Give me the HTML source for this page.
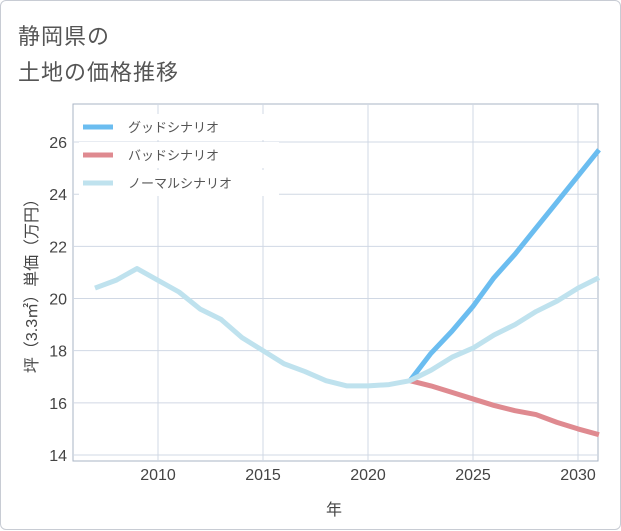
<!DOCTYPE html>
<html><head><meta charset="utf-8"><style>
body{margin:0;background:#fff;font-family:"Liberation Sans","Noto Sans CJK JP",sans-serif;}
#card{position:absolute;left:0;top:0;width:619px;height:528px;border:1px solid #c8ccd4;border-radius:6px;background:#fff;}
.title{position:absolute;left:17px;font-size:22px;color:#555;letter-spacing:1px;}
</style></head><body>
<div id="card">
<div class="title" style="top:18px">静岡県の</div>
<div class="title" style="top:54px">土地の価格推移</div>
<svg id="chart" width="621" height="530" style="position:absolute;left:0;top:0"></svg>
</div>
<script>
const years=[2007,2008,2009,2010,2011,2012,2013,2014,2015,2016,2017,2018,2019,2020,2021,2022,2023,2024,2025,2026,2027,2028,2029,2030,2031];
const normalValues=[20.4,20.7,21.15,20.7,20.25,19.6,19.2,18.5,18.0,17.5,17.2,16.85,16.65,16.65,16.7,16.85,17.25,17.75,18.1,18.6,19.0,19.5,19.9,20.4,20.8];
const futureYears=[2022,2023,2024,2025,2026,2027,2028,2029,2030,2031];
const goodValues=[16.85,17.9,18.75,19.7,20.8,21.7,22.7,23.7,24.7,25.7];
const badValues=[16.85,16.65,16.4,16.15,15.9,15.7,15.55,15.25,15.0,14.78];
const xTicks=[2010,2015,2020,2025,2030];
const yTicks=[14,16,18,20,22,24,26];
const legendLabels=["グッドシナリオ","バッドシナリオ","ノーマルシナリオ"];
const NS="http://www.w3.org/2000/svg";
const svg=document.getElementById('chart');
const L=72,R=597,T=103,B=460;
function x(v){return 157+(v-2010)*21;}
function y(v){return 454-(v-14)*26.08;}
function mk(tag,attrs,parent){const e=document.createElementNS(NS,tag);for(const k in attrs)e.setAttribute(k,attrs[k]);(parent||svg).appendChild(e);return e;}
const frame=mk('rect',{x:L,y:T,width:R-L,height:B-T,fill:'none',stroke:'#aab4c4','stroke-width':1});


xTicks.forEach(t=>{
 const g=mk('line',{x1:x(t),x2:x(t),y1:T,y2:B,stroke:'#d0d8e4','stroke-width':1});
 
 
 const tx=mk('text',{x:x(t),y:B+19,'text-anchor':'middle','font-size':16,fill:'#444'});
 tx.textContent=t;
 
 
});
yTicks.forEach(t=>{
 const g=mk('line',{x1:L,x2:R,y1:y(t),y2:y(t),stroke:'#d0d8e4','stroke-width':1});
 
 
 const tx=mk('text',{x:L-6,y:y(t)+6,'text-anchor':'end','font-size':16,fill:'#444'});
 tx.textContent=t;
 
 
});
function line(xs,vs,color,name){
 const p=mk('polyline',{points:xs.map((v,i)=>x(v)+','+y(vs[i])).join(' '),fill:'none',stroke:color,'stroke-width':5,'stroke-linejoin':'round'});
 
 
}
line(futureYears,goodValues,'#6bbdf0','good-scenario-line');
line(futureYears,badValues,'#df8a90','bad-scenario-line');
line(years,normalValues,'#bfe2ee','normal-scenario-line');
const cols=['#6bbdf0','#df8a90','#bfe2ee'];
legendLabels.forEach((lab,i)=>{
 const yy=126+i*28;
 const bg=mk('rect',{x:78,y:yy-13,width:200,height:26,fill:'#fff'});
 
 
 const l=mk('line',{x1:82,x2:112,y1:yy,y2:yy,stroke:cols[i],'stroke-width':5});
 
 
 const t=mk('text',{x:127,y:yy+5,'font-size':13,fill:'#555'});
 t.textContent=lab;
 
 
});
const yt=mk('text',{transform:'translate(36,281) rotate(-90)','text-anchor':'middle','font-size':16,fill:'#444'});
yt.textContent='坪（3.3㎡）単価（万円）';


const xt=mk('text',{x:333,y:514,'text-anchor':'middle','font-size':16,fill:'#444'});
xt.textContent='年';


</script>
</body></html>
